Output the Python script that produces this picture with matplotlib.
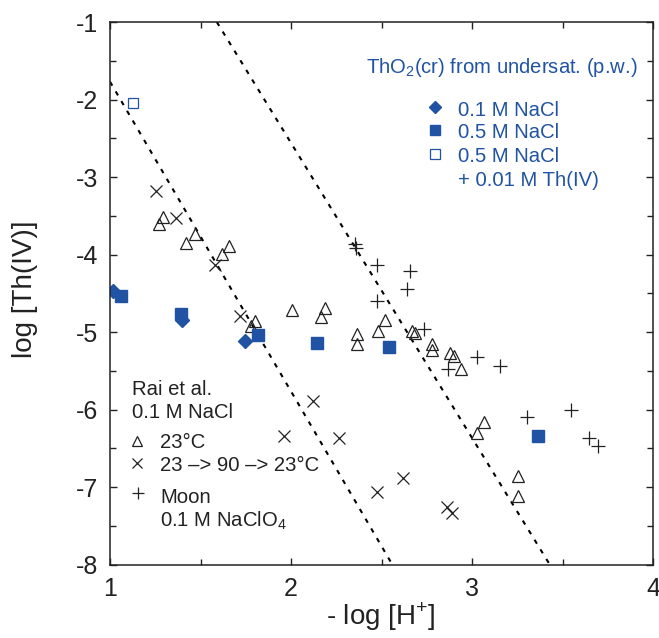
import matplotlib
matplotlib.use("Agg")
import matplotlib.pyplot as plt
from matplotlib.ticker import MultipleLocator

plt.rcParams["font.family"] = ["Liberation Sans", "DejaVu Sans"]
plt.rcParams["axes.unicode_minus"] = False
plt.rcParams["mathtext.fontset"] = "custom"
plt.rcParams["mathtext.rm"] = "Liberation Sans"

BLUE = "#2053a3"
INK = "#222222"

# this work: ThO2(cr) from undersaturation
dia_x = [1.017, 1.40, 1.748]
dia_y = [-4.47, -4.85, -5.11]
sq_x = [1.062, 1.39, 1.818, 2.145, 2.54, 3.366]
sq_y = [-4.54, -4.76, -5.035, -5.134, -5.19, -6.34]
osq_x = [1.127]
osq_y = [-2.05]

# Rai et al., 0.1 M NaCl, 23 C
tri_x = [1.293, 1.271, 1.468, 1.418, 1.656, 1.621, 1.803, 1.777, 2.004, 2.19,
         2.166, 2.363, 2.363, 2.519, 2.479, 2.667, 2.685, 2.777, 2.781, 2.878,
         2.90, 2.941, 3.066, 3.03, 3.256, 3.256]
tri_y = [-3.52, -3.61, -3.74, -3.85, -3.885, -3.99, -4.86, -4.92, -4.71, -4.69,
         -4.81, -5.02, -5.15, -4.84, -4.98, -4.98, -5.01, -5.15, -5.23, -5.27,
         -5.31, -5.48, -6.16, -6.30, -6.85, -7.12]

# Rai et al., 23 -> 90 -> 23 C
crs_x = [1.252, 1.366, 1.582, 1.716, 2.123, 1.961, 2.265, 2.477, 2.617, 2.86, 2.888]
crs_y = [-3.18, -3.53, -4.13, -4.79, -5.89, -6.345, -6.37, -7.06, -6.88, -7.25, -7.33]

# Moon, 0.1 M NaClO4
pls_x = [2.354, 2.359, 2.477, 2.657, 2.639, 2.477, 2.735, 3.03, 3.155, 2.869,
         3.306, 3.545, 3.646, 3.698]
pls_y = [-3.86, -3.92, -4.14, -4.21, -4.45, -4.60, -4.96, -5.315, -5.44, -5.48,
         -6.09, -6.00, -6.37, -6.47]

# dashed guide lines (endpoints)
line1_x = [1.0, 2.56]
line1_y = [-1.77, -8.0]
line2_x = [1.59, 3.43]
line2_y = [-1.0, -8.0]

fig = plt.figure(figsize=(6.59, 6.38), dpi=100)
ax = fig.add_axes([110 / 659, 1 - 564.7 / 638, 543 / 659, 542.7 / 638])

ax.plot(line1_x, line1_y, color="black", lw=1.5, dashes=(2.2, 3.2))
ax.plot(line2_x, line2_y, color="black", lw=1.5, dashes=(2.2, 3.2))

ax.plot(tri_x, tri_y, "^", ms=8, mfc="none", mec=INK, mew=0.9, ls="none")
ax.plot(crs_x, crs_y, "x", ms=8, mec=INK, mew=0.9, ls="none")
ax.plot(pls_x, pls_y, "+", ms=10, mec=INK, mew=0.9, ls="none")
ax.plot(sq_x, sq_y, "s", ms=8.3, color=BLUE, mec=BLUE, ls="none")
ax.plot(dia_x, dia_y, "D", ms=7, color=BLUE, mec=BLUE, ls="none")
ax.plot(osq_x, osq_y, "s", ms=7.5, mfc="white", mec=BLUE, mew=0.9, ls="none")

ax.set_xlim(1, 4)
ax.set_ylim(-8, -1)
ax.xaxis.set_major_locator(MultipleLocator(1))
ax.xaxis.set_minor_locator(MultipleLocator(0.5))
ax.yaxis.set_major_locator(MultipleLocator(1))
ax.yaxis.set_minor_locator(MultipleLocator(0.5))
ax.tick_params(which="both", direction="in", top=True, right=True,
               color=INK, width=1.0, labelsize=18, labelcolor=INK)
ax.tick_params(which="major", length=5)
ax.tick_params(which="minor", length=4)
ax.tick_params(axis="y", pad=8.5)
ax.tick_params(axis="x", pad=9)
for s in ax.spines.values():
    s.set_color(INK)
    s.set_linewidth(1.1)

ax.set_xlabel("- log [H$^{+}$]", fontsize=20, color=INK)
ax.xaxis.label.set_va("baseline")
ax.xaxis.set_label_coords(0.499, -0.111)
ax.set_ylabel("log [Th(IV)]", fontsize=20, color=INK)
ax.yaxis.label.set_va("center")
ax.yaxis.set_label_coords(-0.157, 0.507)

# legend for this work (blue)
fs = 14.6
tx = ax.transAxes
ax.text(0.471, 0.9053, "ThO$_2$(cr) from undersat. (p.w.)", transform=tx,
        fontsize=fs, color=BLUE, va="baseline")
ax.plot([0.5985], [0.8433], "D", ms=6, color=BLUE, transform=tx, clip_on=False)
ax.plot([0.5985], [0.8009], "s", ms=7, color=BLUE, transform=tx, clip_on=False)
ax.plot([0.5985], [0.7567], "s", ms=6.5, mfc="white", mec=BLUE, mew=0.9,
        transform=tx, clip_on=False)
ax.text(0.641, 0.8273, "0.1 M NaCl", transform=tx, fontsize=fs, color=BLUE, va="baseline")
ax.text(0.641, 0.7855, "0.5 M NaCl", transform=tx, fontsize=fs, color=BLUE, va="baseline")
ax.text(0.641, 0.7426, "0.5 M NaCl", transform=tx, fontsize=fs, color=BLUE, va="baseline")
ax.text(0.641, 0.6984, "+ 0.01 M Th(IV)", transform=tx, fontsize=fs, color=BLUE, va="baseline")

# legend for literature data
ax.text(0.040, 0.3132, "Rai et al.", transform=tx, fontsize=fs, color=INK, va="baseline")
ax.text(0.040, 0.2696, "0.1 M NaCl", transform=tx, fontsize=fs, color=INK, va="baseline")
ax.plot([0.0497], [0.2279], "^", ms=6.5, mfc="none", mec=INK, mew=0.9, transform=tx)
ax.text(0.0921, 0.2143, "23°C", transform=tx, fontsize=fs, color=INK, va="baseline")
ax.plot([0.0497], [0.1874], "x", ms=7, mec=INK, mew=0.9, transform=tx)
ax.text(0.0921, 0.1732, "23 –> 90 –> 23°C", transform=tx, fontsize=fs, color=INK, va="baseline")
ax.plot([0.0516], [0.1327], "+", ms=8, mec=INK, mew=0.9, transform=tx)
ax.text(0.0921, 0.1142, "Moon", transform=tx, fontsize=fs, color=INK, va="baseline")
ax.text(0.0921, 0.0700, "0.1 M NaClO$_4$", transform=tx, fontsize=fs, color=INK, va="baseline")

fig.savefig("out.png", dpi=100)
